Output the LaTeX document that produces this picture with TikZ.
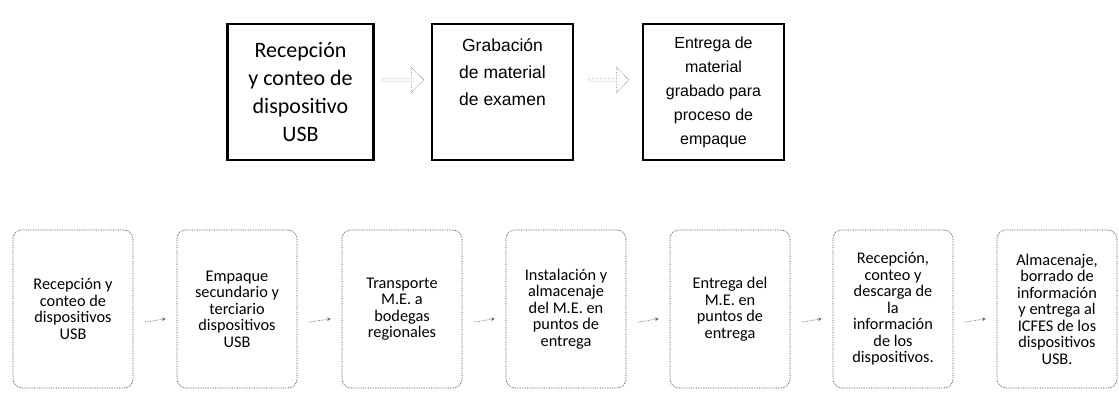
\documentclass[tikz,border=0pt]{standalone}
\usepackage{fontspec}
\usepackage{tikz}
\usetikzlibrary{shapes.arrows,calc}
\newfontfamily\calfont{Carlito}
\newfontfamily\arfont{Liberation Sans}

\tikzset{
  topbox/.style={draw=black, line width=2.6pt, align=center, inner sep=2pt,
    minimum width=144pt, minimum height=136pt},
  basebox/.style={draw=black!75, densely dotted, line width=0.7pt, rounded corners=9pt,
    align=center, inner sep=1pt, minimum width=120pt, minimum height=158pt,
    font=\calfont\fontsize{16.3}{16.5}\selectfont},
  blockarrow/.style={single arrow, draw=black!55, densely dotted, line width=0.6pt,
    minimum height=41pt, minimum width=25pt, single arrow head extend=3pt, inner sep=0pt},
  smallarrow/.style={draw=black!60, densely dotted, line width=0.7pt, -stealth,
    shorten >=11pt, shorten <=12pt}
}

\begin{document}
\begin{tikzpicture}[x=1pt,y=-1pt]
      \useasboundingbox (0,0) rectangle (1119,403);
      % Top row
      \node[topbox, minimum width=146pt, font=\calfont\fontsize{22}{28}\selectfont] (t1) at (300.5,92)
        {Recepción\\y conteo de\\dispositivo\\USB};
      \node[topbox, minimum width=141pt, font=\arfont\fontsize{17.5}{27}\selectfont] (t2) at (502.5,92)
        {Grabación\\de material\\de examen\\[5pt]\strut};
      \node[topbox, minimum width=141pt, font=\arfont\fontsize{16}{24}\selectfont] (t3) at (713.5,92)
        {Entrega de\\material\\grabado para\\proceso de\\empaque};
      % Block arrows
      \node[blockarrow] (a1) at ($(t1.east)!0.5!(t2.west)+(0,-12)$) {};
      \node[blockarrow] (a2) at ($(t2.east)!0.5!(t3.west)+(0,-12)$) {};
      % Bottom row
      \node[basebox] (b1) at (73,309) {Recepción y\\conteo de\\dispositivos\\USB};
      \node[basebox] (b2) at (237,309) {Empaque\\secundario y\\terciario\\dispositivos\\USB};
      \node[basebox] (b3) at (402,309) {Transporte\\M.E. a\\bodegas\\regionales};
      \node[basebox] (b4) at (566,309) {Instalación y\\almacenaje\\del M.E. en\\puntos de\\entrega};
      \node[basebox] (b5) at (730,309) {Entrega del\\M.E. en\\puntos de\\entrega};
      \node[basebox] (b6) at (893,309) {Recepción,\\conteo y\\descarga de\\la\\información\\de los\\dispositivos.};
      \node[basebox] (b7) at (1057,309) {Almacenaje,\\borrado de\\información\\y entrega al\\ICFES de los\\dispositivos\\USB.};
      % Small arrows
      \foreach \i/\j in {b1/b2,b2/b3,b3/b4,b4/b5,b5/b6,b6/b7}
        \draw[smallarrow] ($(\i.east)+(0,15)$) -- ($(\j.west)+(0,8)$);
    \end{tikzpicture}
\end{document}
